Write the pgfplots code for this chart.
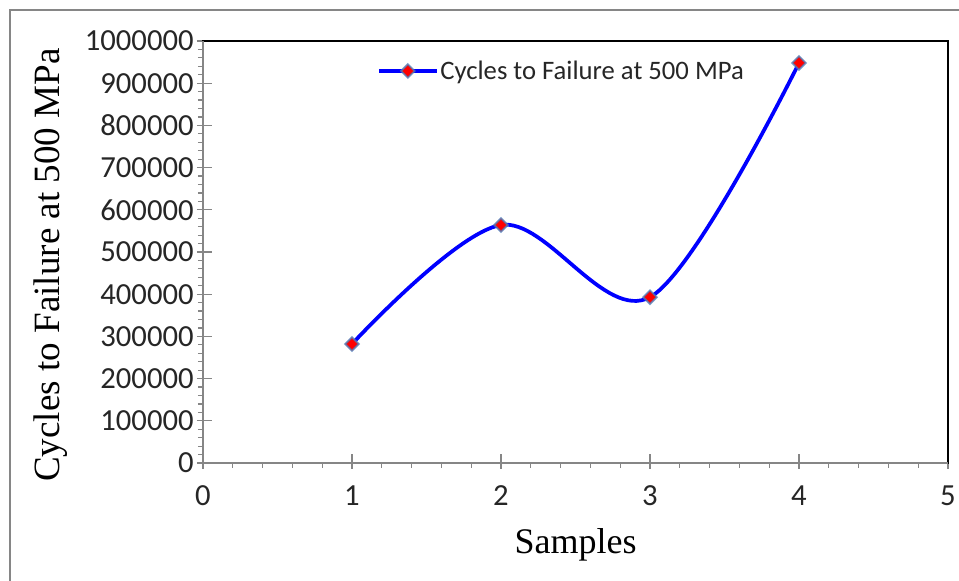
\documentclass[border=0pt]{standalone}
\usepackage{pgfplots}
\pgfplotsset{compat=1.18}
\usepackage{fontspec}
\setmainfont{Liberation Serif}
\newfontfamily\calibri{Carlito}
\definecolor{axgray}{RGB}{134,134,134}
\definecolor{mkedge}{RGB}{74,126,187}
\begin{document}
\begin{tikzpicture}
\useasboundingbox (0,0) rectangle (719.25pt,435.75pt);
\draw[axgray, line width=1.5pt] (7.5pt,-2pt) -- (7.5pt,428.25pt) -- (722pt,428.25pt);
\begin{axis}[
  scale only axis,
  width=558.75pt, height=316.5pt,
  at={(152.25pt,88.5pt)}, anchor=south west,
  xmin=0, xmax=5, ymin=0, ymax=1000000,
  xtick={0,1,2,3,4,5},
  ytick={0,100000,200000,300000,400000,500000,600000,700000,800000,900000,1000000},
  minor x tick num=4, minor y tick num=4,
  scaled y ticks=false,
  yticklabel style={/pgf/number format/fixed, /pgf/number format/1000 sep={}, xshift=1pt},
  xticklabel style={yshift=-9pt},
  /pgf/number format/assume math mode=true,
  xtick pos=bottom, ytick pos=left,
  tick align=outside,
  major tick length=4.5pt, minor tick length=3.75pt,
  tick style={color=axgray, line width=0.9pt},
  extra x ticks={1,2,3,4},
  extra y ticks={100000,200000,300000,400000,500000,600000,700000,800000,900000},
  extra tick style={tick align=inside, major tick length=6.5pt, xticklabels={}, yticklabels={}},
  ticklabel style={font=\calibri\fontsize{23}{26}\selectfont, text=black!85},
  axis line style={black, line width=1.2pt},
  xlabel={Samples},
  ylabel={Cycles to Failure at 500 MPa},
  xlabel style={font=\fontsize{27}{30}\selectfont, at={(axis description cs:0.5,-0.1943)}, anchor=center},
  ylabel style={font=\fontsize{27.8}{31}\selectfont, at={(axis description cs:-0.204,0.469)}, anchor=center},
  legend style={draw=none, fill=none, at={(axis description cs:0.2336,0.929)}, anchor=west, inner sep=0pt,
    font=\calibri\fontsize{20}{24}\selectfont, text=black!85,
    nodes={inner sep=1.5pt}},
  legend image code/.code={\draw[#1, mark repeat=2, mark phase=2] plot coordinates {(0pt,0pt) (21.5pt,0pt) (43pt,0pt)};},
  after end axis/.code={\draw[axgray, line width=1.3pt] (rel axis cs:0,1) -- (rel axis cs:0,0) -- (rel axis cs:1,0);},
]
\addplot[blue, line width=2.8pt, smooth, tension=0.55,
  mark=square*, mark size=3.6pt,
  mark options={rotate=45, fill=red, draw=mkedge, draw opacity=0.75, line width=1.4pt}]
  coordinates {(1,282000) (2,564000) (3,393000) (4,948000)};
\addlegendentry{Cycles to Failure at 500 MPa}
\end{axis}
\end{tikzpicture}
\end{document}
